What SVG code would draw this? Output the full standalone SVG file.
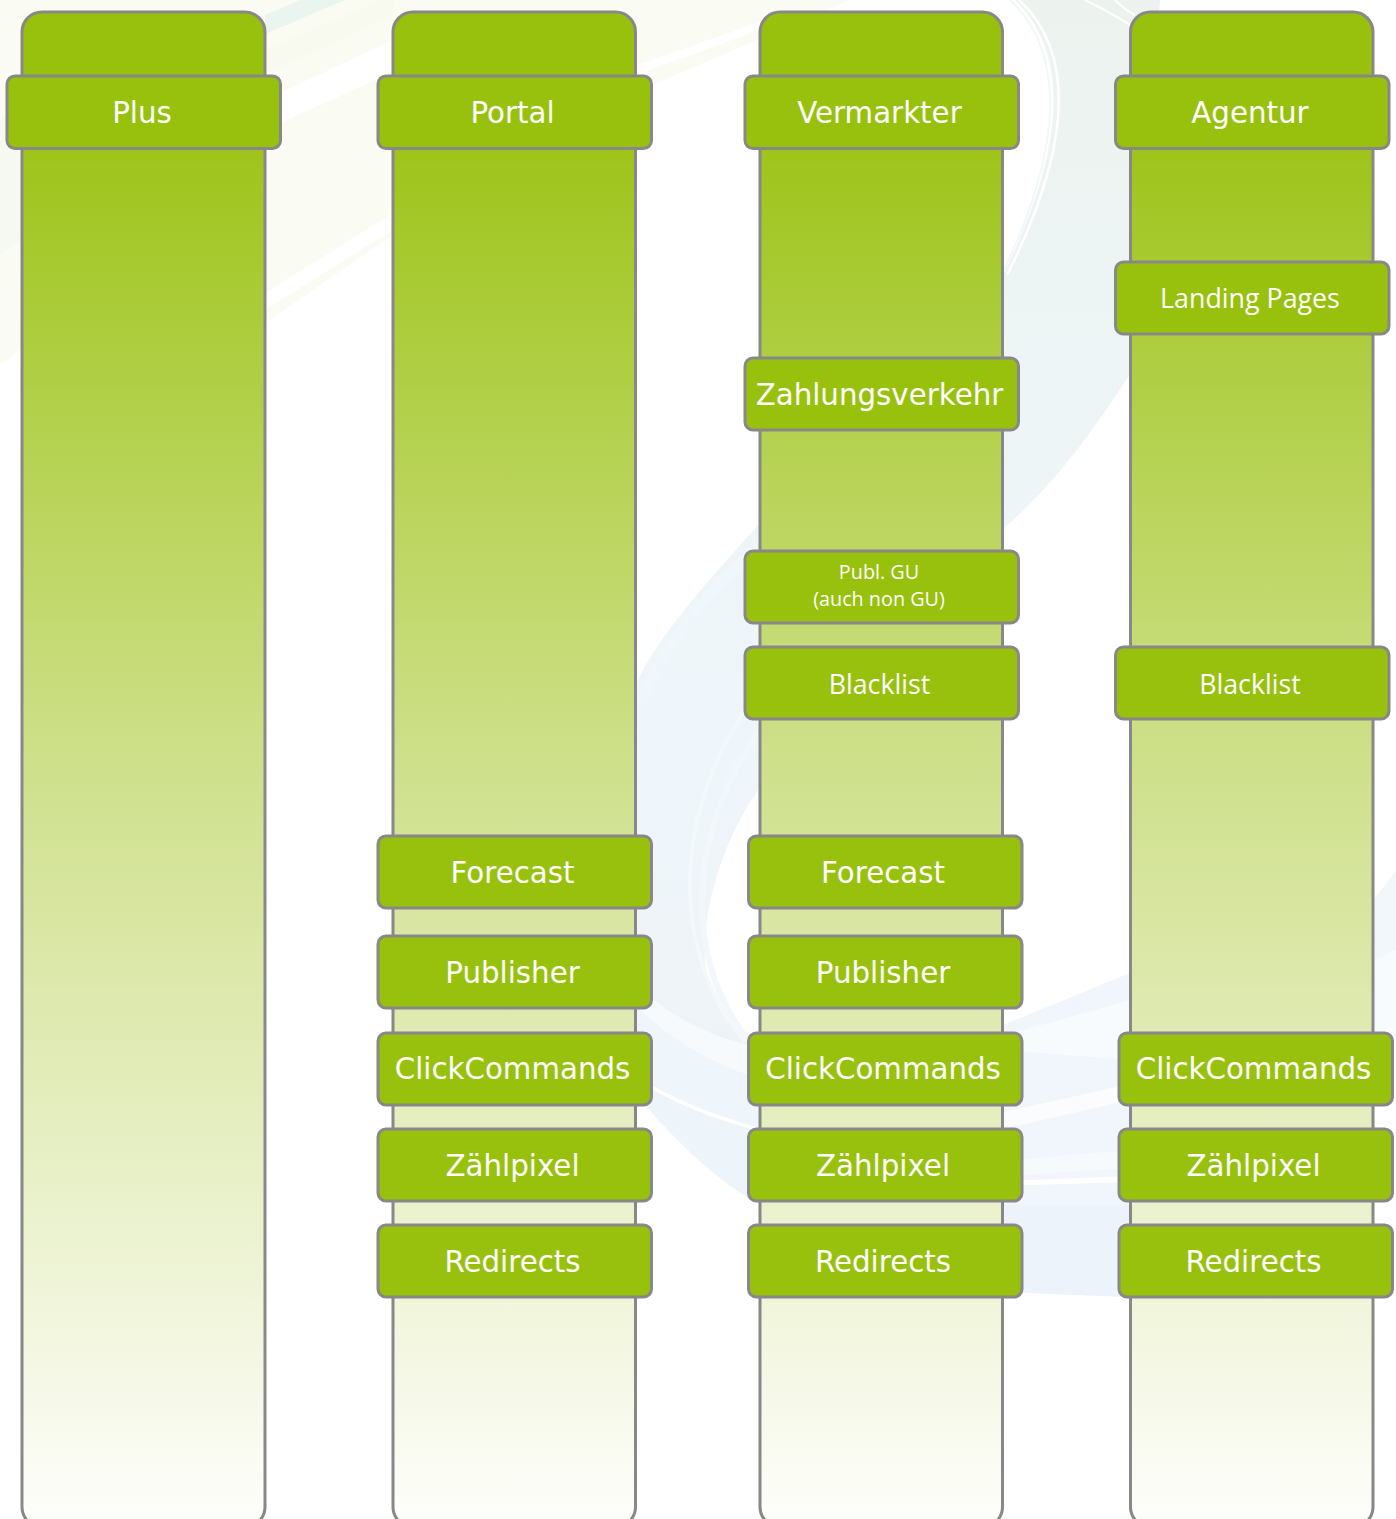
<svg xmlns="http://www.w3.org/2000/svg" width="1396" height="1519" viewBox="0 0 1396 1519">
<defs>
<linearGradient id="col" gradientUnits="userSpaceOnUse" x1="0" y1="12" x2="0" y2="1527"><stop offset="0" stop-color="#98c10d"/><stop offset="0.04" stop-color="#98c10d"/><stop offset="0.5" stop-color="#cfe08c"/><stop offset="1" stop-color="#fefefc"/></linearGradient>
<linearGradient id="sw" gradientUnits="userSpaceOnUse" x1="0" y1="0" x2="0" y2="1050"><stop offset="0" stop-color="#ecf3ef"/><stop offset="0.5" stop-color="#edf5f8"/><stop offset="0.7" stop-color="#eff6fb"/><stop offset="1" stop-color="#edf3f7"/></linearGradient>
<style>
.c{fill:url(#col);stroke:#888;stroke-width:3}
.b{fill:#98c10d;stroke:#888;stroke-width:3}
text{fill:#fff;text-anchor:middle}
.d{font:29.3px "DejaVu Sans",sans-serif}
.o{font:26.8px "Open Sans",sans-serif}
.s{font:19.8px "Open Sans",sans-serif}
.l{fill:none;stroke-linecap:butt}
</style>
</defs>
<rect width="1396" height="1519" fill="#fff"/>
<g id="background" stroke="none">
<path d="M0 0H850L652 85L393 235L265 323L20 350L0 365Z" fill="#fafbf3"/>
<path d="M0 120L22 105V240L0 255Z" fill="#f6f9f0"/>
<path d="M265 34L345 0H300L265 15Z" fill="#ebf5f0"/>
<path d="M265 100L393 40V72L265 130Z" fill="#fff"/>
<path d="M265 50L393 -5V15L265 75Z" fill="#f8faf0"/>
<path d="M265 293L393 213V230L265 310Z" fill="#fff"/>
<path d="M636 65L760 22V30L636 75Z" fill="#fff"/>
<path d="M1015 0C1062 45 1075 130 1003 275L759 524C700 590 655 640 636 685V985C680 1025 720 1040 762 1048C720 1030 700 980 705 935C710 880 735 820 760 788L1003 529C1060 480 1100 420 1132 371L1160 0Z" fill="url(#sw)"/>
<path class="l" d="M759 545C700 600 660 650 640 705" stroke="#f0f7fc" stroke-width="10"/>
<path class="l" d="M760 690C680 790 660 940 745 1042" stroke="#f3f8fb" stroke-width="4"/>
<path class="l" d="M760 730C695 820 675 950 750 1043" stroke="#f1f7fb" stroke-width="6"/>
<path class="l" d="M1010 0C1058 45 1071 130 1003 272" stroke="#f1f7fa" stroke-width="2"/>
<path class="l" d="M1019 0C1068 45 1080 130 1007 275" stroke="#fff" stroke-width="2.500"/>
<path class="l" d="M1085 0C1105 10 1115 15 1130 25" stroke="#fff" stroke-width="2"/>
<path class="l" d="M1115 0C1120 5 1125 10 1135 15" stroke="#fff" stroke-width="2"/>
<path d="M636 985C680 1025 720 1040 762 1048V1080C710 1062 670 1040 636 1005Z" fill="#f6fafd"/>
<path d="M636 1005C670 1040 710 1062 762 1080V1130C710 1117 670 1100 636 1077Z" fill="#eff6fb"/>
<path d="M636 1079C670 1102 710 1118 762 1132V1205C720 1185 675 1140 636 1095Z" fill="#edf4fa"/>
<path class="l" d="M636 1077C670 1100 710 1116 762 1130" stroke="#fff" stroke-width="3"/>
<path d="M1003 1025L1130 973V1297L1003 1292Z" fill="#f0f6fb"/>
<path d="M1003 1036L1130 1000V1060L1003 1050Z" fill="#f7fbfd"/>
<path d="M1003 1112L1130 1084V1100L1003 1129Z" fill="#fafcfe"/>
<path d="M1003 1161L1130 1150V1168L1003 1176Z" fill="#f7fafd"/>
<path d="M1003 1181L1130 1176V1182L1003 1186Z" fill="#fff"/>
<path d="M1003 1205H1130V1297L1003 1292Z" fill="#edf3fa"/>
<path d="M1374 899L1396 871V1040H1374Z" fill="#f2f7fc"/>
<path d="M1374 960L1396 950V1040H1374Z" fill="#f8fbfd"/>
</g>
<g id="plus"><rect class="c" x="22" y="12" width="243" height="1515" rx="20"/><rect class="b" x="7" y="76" width="273.500" height="72.500" rx="8"/><text class="d" x="142" y="122.500">Plus</text></g>
<g id="portal"><rect class="c" x="393" y="12" width="242.500" height="1515" rx="20"/><rect class="b" x="378" y="76" width="273.500" height="72.500" rx="8"/><text class="d" x="512.500" y="122.500">Portal</text>
<rect class="b" x="378" y="836" width="273.500" height="72" rx="8"/><text class="d" x="512.500" y="882.500">Forecast</text>
<rect class="b" x="378" y="936" width="273.500" height="72" rx="8"/><text class="d" x="512.500" y="982.500">Publisher</text>
<rect class="b" x="378" y="1033" width="273.500" height="72" rx="8"/><text class="d" x="512.500" y="1078.500">ClickCommands</text>
<rect class="b" x="378" y="1129" width="273.500" height="72" rx="8"/><text class="d" x="512.500" y="1175.500">Zählpixel</text>
<rect class="b" x="378" y="1225" width="273.500" height="72" rx="8"/><text class="d" x="512.500" y="1271.500">Redirects</text></g>
<g id="vermarkter"><rect class="c" x="760" y="12" width="242.500" height="1515" rx="20"/><rect class="b" x="745" y="76" width="273.500" height="72.500" rx="8"/><text class="d" x="879.500" y="122.500">Vermarkter</text>
<rect class="b" x="745" y="358" width="273.500" height="72" rx="8"/><text class="d" x="879.500" y="404.500">Zahlungsverkehr</text>
<rect class="b" x="745" y="551" width="273.500" height="72" rx="8"/><text class="s" x="879" y="579">Publ. GU</text><text class="s" x="879" y="606">(auch non GU)</text>
<rect class="b" x="745" y="647" width="273.500" height="72" rx="8"/><text class="o" x="879.500" y="694">Blacklist</text>
<rect class="b" x="748.500" y="836" width="273.500" height="72" rx="8"/><text class="d" x="883" y="882.500">Forecast</text>
<rect class="b" x="748.500" y="936" width="273.500" height="72" rx="8"/><text class="d" x="883" y="982.500">Publisher</text>
<rect class="b" x="748.500" y="1033" width="273.500" height="72" rx="8"/><text class="d" x="883" y="1078.500">ClickCommands</text>
<rect class="b" x="748.500" y="1129" width="273.500" height="72" rx="8"/><text class="d" x="883" y="1175.500">Zählpixel</text>
<rect class="b" x="748.500" y="1225" width="273.500" height="72" rx="8"/><text class="d" x="883" y="1271.500">Redirects</text></g>
<g id="agentur"><rect class="c" x="1130.500" y="12" width="242.500" height="1515" rx="20"/><rect class="b" x="1115.500" y="76" width="273.500" height="72.500" rx="8"/><text class="d" x="1250" y="122.500">Agentur</text>
<rect class="b" x="1115.500" y="262" width="273.500" height="72" rx="8"/><text class="o" x="1250" y="308">Landing Pages</text>
<rect class="b" x="1115.500" y="647" width="273.500" height="72" rx="8"/><text class="o" x="1250" y="694">Blacklist</text>
<rect class="b" x="1119" y="1033" width="273.500" height="72" rx="8"/><text class="d" x="1253.500" y="1078.500">ClickCommands</text>
<rect class="b" x="1119" y="1129" width="273.500" height="72" rx="8"/><text class="d" x="1253.500" y="1175.500">Zählpixel</text>
<rect class="b" x="1119" y="1225" width="273.500" height="72" rx="8"/><text class="d" x="1253.500" y="1271.500">Redirects</text></g>
<g id="connectors"/>
</svg>
